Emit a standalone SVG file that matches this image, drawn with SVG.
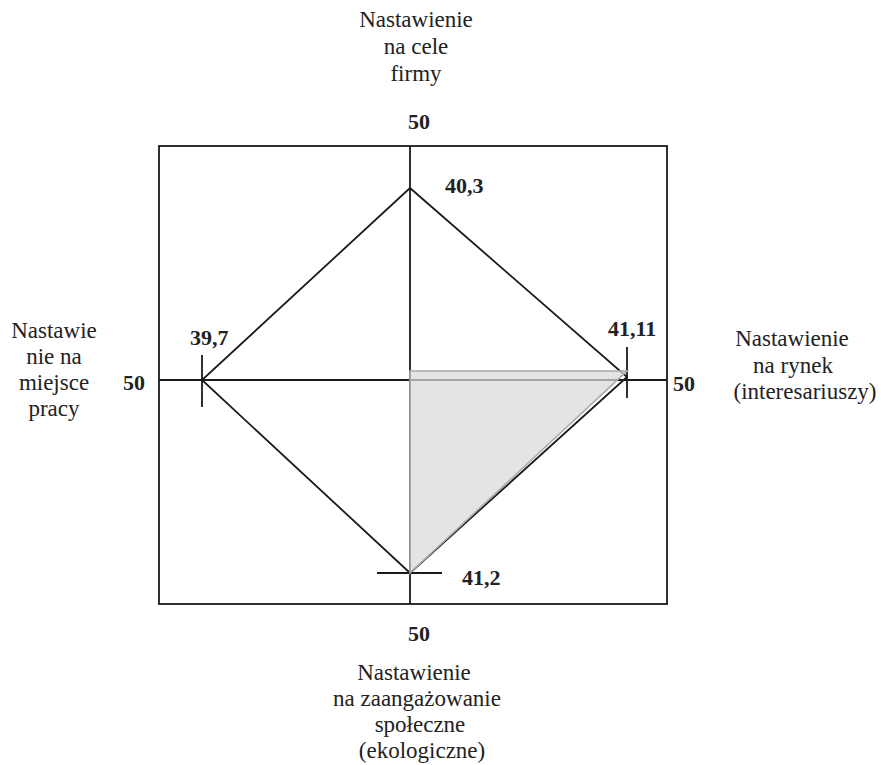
<svg xmlns="http://www.w3.org/2000/svg" width="881" height="765" viewBox="0 0 881 765">
<style>
.ln{stroke:#1a1a1a;stroke-width:1.8;fill:none}
.lbl{font-family:'Liberation Serif','Tinos','Times New Roman','DejaVu Serif',serif;font-size:23px;fill:#222;text-anchor:middle}
.num{font-family:'Liberation Serif','Tinos','Times New Roman','DejaVu Serif',serif;font-size:22px;font-weight:bold;fill:#222}
</style>
<rect width="881" height="765" fill="#fff"/>
<g id="frame">
<rect class="ln" x="159" y="146" width="508" height="458"/>
</g>
<g id="connectors">
<line class="ln" x1="410" y1="146" x2="410" y2="604"/>
<line class="ln" x1="159" y1="380" x2="667" y2="380"/>
<polygon class="ln" points="410,188 627,377 410,573 202,380"/>
<line class="ln" x1="202" y1="355" x2="202" y2="407"/>
<line class="ln" x1="627" y1="347" x2="627" y2="398"/>
<line class="ln" x1="377" y1="573" x2="442" y2="573"/>
</g>
<g id="shaded">
<polygon points="410,371 627,371 410,573" fill="rgb(217,217,220)" fill-opacity="0.72" stroke="#a8a8a8" stroke-width="1.6"/>
</g>
<g id="top-label">
<text class="lbl" x="416" y="27">Nastawienie</text>
<text class="lbl" x="416" y="54">na cele</text>
<text class="lbl" x="416" y="81">firmy</text>
<text class="num" x="419" y="129" text-anchor="middle">50</text>
</g>
<g id="left-label">
<text class="lbl" x="54" y="338">Nastawie</text>
<text class="lbl" x="54" y="364">nie na</text>
<text class="lbl" x="54" y="390">miejsce</text>
<text class="lbl" x="54" y="416">pracy</text>
<text class="num" x="134" y="390" text-anchor="middle">50</text>
</g>
<g id="right-label">
<text class="num" x="684" y="391" text-anchor="middle">50</text>
<text class="lbl" x="792" y="346">Nastawienie</text>
<text class="lbl" x="793" y="373">na rynek</text>
<text class="lbl" x="805" y="399">(interesariuszy)</text>
</g>
<g id="bottom-label">
<text class="num" x="419" y="641" text-anchor="middle">50</text>
<text class="lbl" x="414" y="680">Nastawienie</text>
<text class="lbl" x="417" y="706">na zaangażowanie</text>
<text class="lbl" x="420" y="732">społeczne</text>
<text class="lbl" x="422" y="758">(ekologiczne)</text>
</g>
<g id="values">
<text class="num" x="445" y="193">40,3</text>
<text class="num" x="190" y="345">39,7</text>
<text class="num" x="608" y="336">41,11</text>
<text class="num" x="462" y="585">41,2</text>
</g>
</svg>
